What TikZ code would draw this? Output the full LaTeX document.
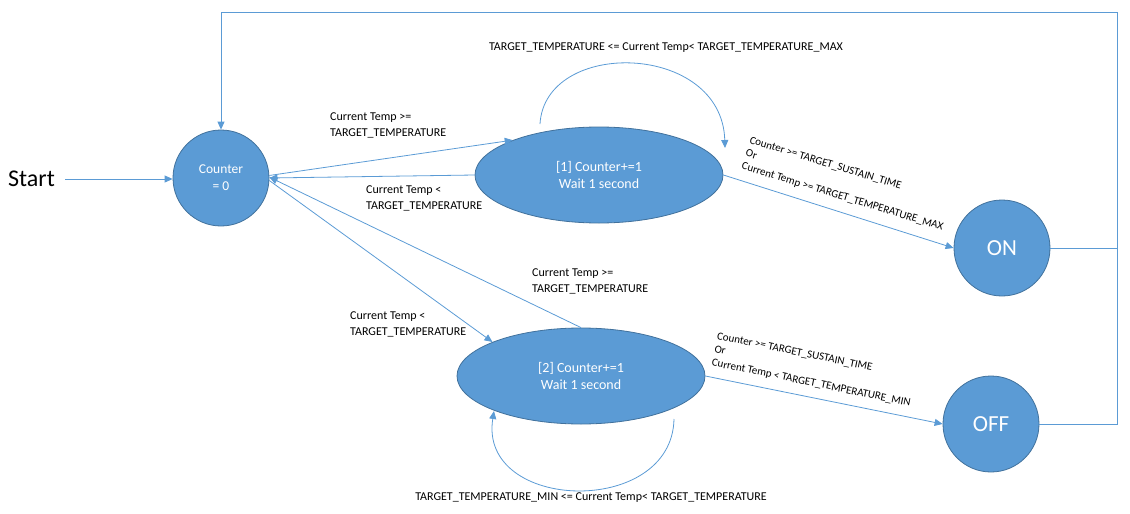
\documentclass[tikz,border=0pt]{standalone}
\usepackage{fontspec}
\setmainfont{Carlito}
\usetikzlibrary{arrows.meta,shapes.geometric}
\definecolor{ofill}{HTML}{5B9BD5}
\definecolor{odraw}{HTML}{41719C}
\definecolor{oline}{HTML}{5B9BD5}
\tikzset{
  statecirc/.style={circle,fill=ofill,draw=odraw,line width=0.8pt,minimum size=96pt,inner sep=0pt,text=white,align=center},
  stateell/.style={ellipse,fill=ofill,draw=odraw,line width=0.8pt,minimum width=248pt,minimum height=96pt,inner sep=0pt,text=white,align=center,font=\fontsize{14}{17}\selectfont},
  conn/.style={draw=oline,line width=0.8pt},
  arr/.style={conn,-{Triangle[length=8pt,width=7pt]}},
  lbl/.style={font=\fontsize{12}{16}\selectfont,align=left,inner sep=0pt},
  rlbl/.style={font=\fontsize{11}{13.5}\selectfont,align=left,inner sep=0pt,anchor=north west},
}
\begin{document}
\begin{tikzpicture}[x=1pt,y=-1pt]
\useasboundingbox (0,0) rectangle (1130,514);
% states
\node[statecirc,font=\fontsize{13.5}{17}\selectfont] (cnt) at (221,178) {Counter\\= 0};
\node[stateell] (e1) at (599,175) {[1] Counter+=1\\Wait 1 second};
\node[stateell] (e2) at (581,376) {[2] Counter+=1\\Wait 1 second};
\node[statecirc,font=\fontsize{23}{27}\selectfont] (on) at (1002,248) {ON};
\node[statecirc,font=\fontsize{23}{27}\selectfont] (off) at (991,424) {OFF};
\node[font=\fontsize{24}{28}\selectfont,anchor=west,inner sep=0pt] (start) at (8,179) {Start};
% start arrow
\draw[arr] (start.east) ++(10,0) coordinate (s0) (s0) -- (cnt.west |- s0);
% feedback
\coordinate (tr) at (1117,12);
\coordinate (jn) at (1117,248);
\draw[arr] (on.east) -| (tr) -| (cnt.north);
\draw[conn] (off.east) -| (jn);
% counter <-> e1
\draw[arr] (cnt.3) -- (e1.158);
\draw[arr] (e1.west) -- (cnt.east);
% counter <-> e2
\draw[arr] (cnt.-3) -- (e2.159);
\draw[arr] (e2.north) -- (cnt.1);
% to ON / OFF
\draw[arr] (e1.east) -- (on.west);
\draw[arr] (e2.east) -- (off.west);
% self loops
\coordinate (l1s) at (540,124);
\coordinate (l1e) at (725,148);
\draw[arr] (l1s) .. controls (545,38) and (722,42) .. (l1e);
\coordinate (l2s) at (674,419);
\coordinate (l2e) at (494,411);
\draw[arr] (l2s) .. controls (672,518) and (478,512) .. (l2e);
% labels
\node[lbl,anchor=north west] (t1) at (330,113) {Current Temp >=\\TARGET\_TEMPERATURE};
\node[lbl,anchor=north west] (t2) at (366,186) {Current Temp <\\TARGET\_TEMPERATURE};
\node[lbl,anchor=north west] (t3) at (350,312) {Current Temp <\\TARGET\_TEMPERATURE};
\node[lbl,anchor=north west] (t4) at (532,269) {Current Temp >=\\TARGET\_TEMPERATURE};
\node[lbl] (t5) at (666,48) {TARGET\_TEMPERATURE <= Current Temp< TARGET\_TEMPERATURE\_MAX};
\node[lbl] (t6) at (591,498) {TARGET\_TEMPERATURE\_MIN <= Current Temp< TARGET\_TEMPERATURE};
\node[rlbl,rotate=-17] (t7) at (751,136) {Counter >= TARGET\_SUSTAIN\_TIME\\Or\\Current Temp >= TARGET\_TEMPERATURE\_MAX};
\node[rlbl,rotate=-11.5] (t8) at (718,332) {Counter >= TARGET\_SUSTAIN\_TIME\\Or\\Current Temp < TARGET\_TEMPERATURE\_MIN};
\end{tikzpicture}
\end{document}
